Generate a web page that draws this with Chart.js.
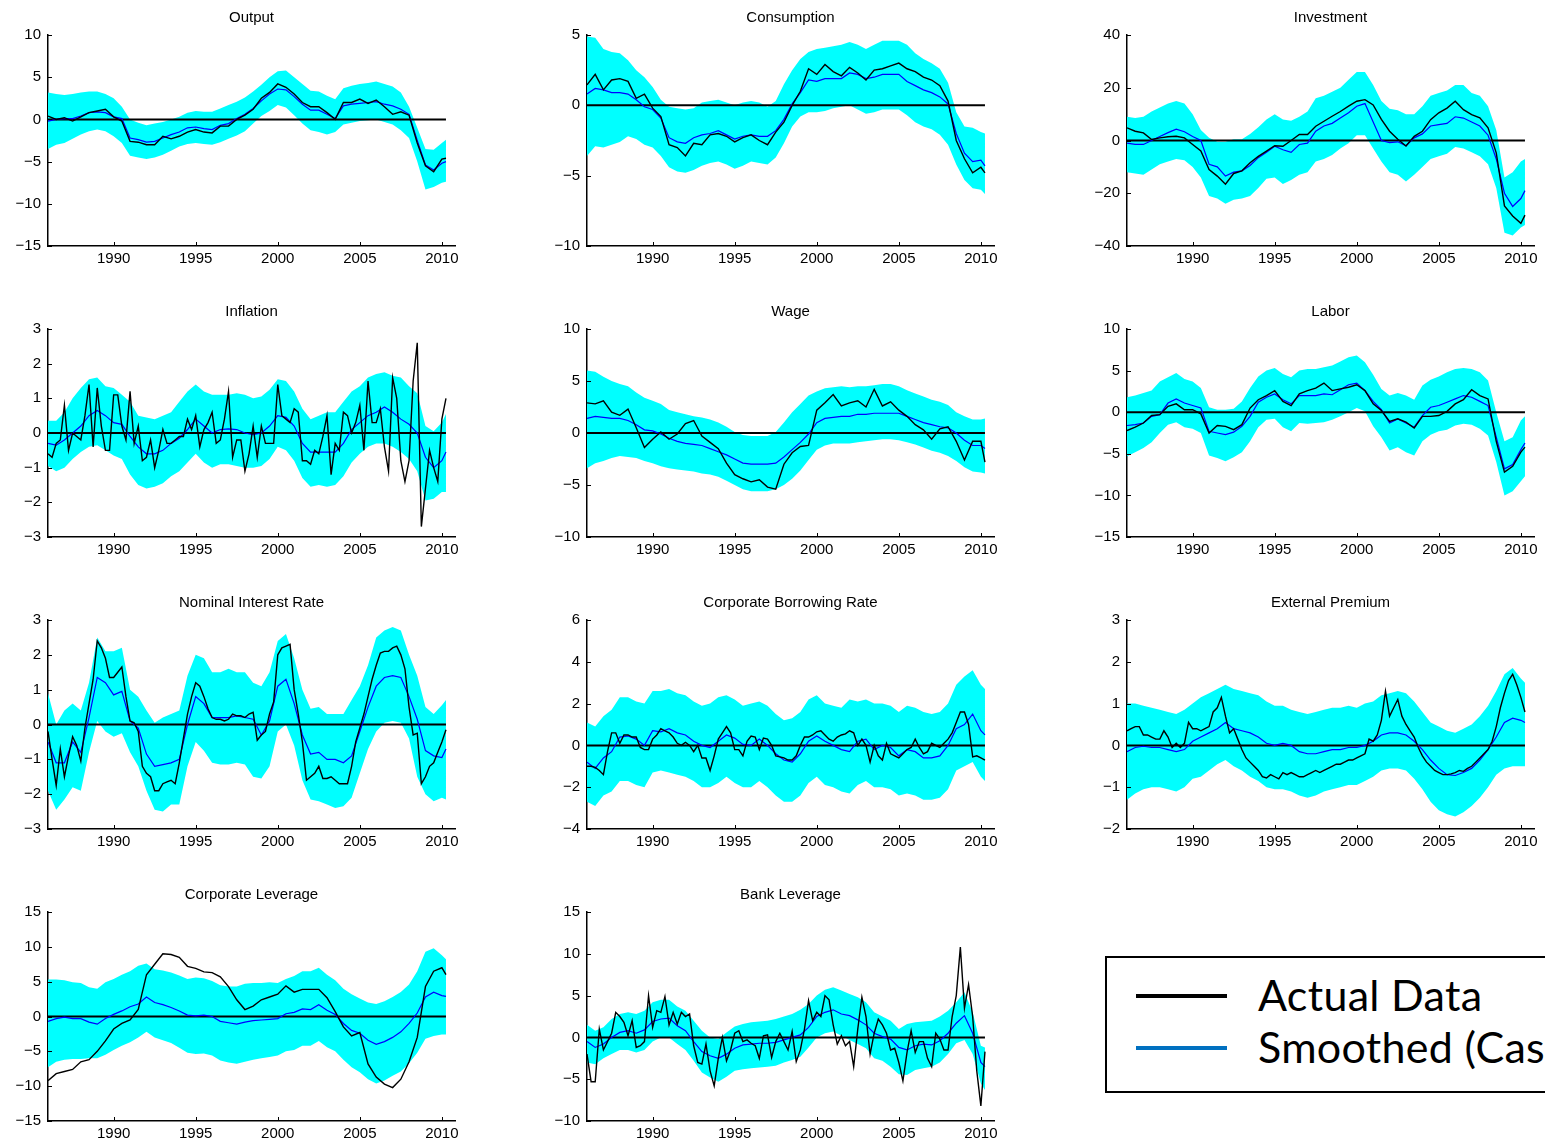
<!DOCTYPE html>
<html><head><meta charset="utf-8">
<script src="https://cdn.jsdelivr.net/npm/chart.js@4.4.0/dist/chart.umd.min.js"></script>
<style>
html,body{margin:0;padding:0;background:#fff;overflow:hidden;width:1545px;height:1145px;position:relative;}
canvas{position:absolute;}
#lgBox{position:absolute;left:1105px;top:956px;width:600px;height:137px;border:2px solid #000;box-sizing:border-box;}
.lgLine{position:absolute;left:1136px;width:91px;height:4px;}
.lgText{position:absolute;left:1258px;font-family:Lato,"Open Sans",sans-serif;font-size:43px;line-height:0;white-space:nowrap;color:#000;letter-spacing:0.3px;}
</style></head><body>
<div id="lgBox"></div>
<div class="lgLine" style="top:994px;background:#000"></div>
<div class="lgLine" style="top:1046px;background:#0070C0"></div>
<div class="lgText" style="top:995px">Actual Data</div>
<div class="lgText" style="top:1047px">Smoothed (Case 1)</div>
<script>
// ---------- categories / ticks ----------
const titles = ['Output','Consumption','Investment','Inflation','Wage','Labor','Nominal Interest Rate','Corporate Borrowing Rate','External Premium','Corporate Leverage','Bank Leverage'];
const xTickYears = [1990, 1995, 2000, 2005, 2010];
const firstYear = 1986, lastYear = 2010.25;

// ---------- Output ----------
const outputActual = [0.4,0.0,0.2,-0.2,0.3,0.8,1.0,1.2,0.3,-0.2, -2.6,-2.7,-3.0,-3.0,-2.0,-2.3,-2.0,-1.5,-1.2,-1.5, -1.6,-0.8,-0.8,0.0,0.5,1.2,2.5,3.2,4.2,3.8, 3.0,2.0,1.5,1.5,0.8,0.0,2.0,2.0,2.4,1.9, 2.3,1.5,0.6,0.9,0.5,-2.8,-5.5,-6.2,-4.7,-4.6];
const outputSmoothed = [-0.2,0.0,0.1,0.1,0.4,0.8,0.9,0.8,0.3,0.1, -2.2,-2.4,-2.7,-2.6,-2.2,-1.8,-1.5,-1.0,-0.9,-1.1, -1.2,-0.7,-0.5,0.1,0.6,1.3,2.2,3.0,3.6,3.5, 2.7,1.8,1.1,1.1,0.6,0.1,1.6,1.8,1.9,2.0, 2.1,1.8,1.6,1.2,0.6,-2.5,-5.4,-6.0,-5.2,-5.0];
const outputUpper = [3.2,3.0,2.9,3.0,3.2,3.3,3.3,3.0,2.5,1.5, 0.0,-0.4,-0.7,-0.5,-0.3,0.0,0.3,0.8,1.0,0.9, 0.9,1.3,1.7,2.1,2.6,3.3,4.1,5.0,5.7,5.8, 5.0,4.2,3.4,3.3,2.8,2.4,3.7,4.0,4.2,4.3, 4.5,4.2,3.9,3.2,1.5,-1.0,-3.5,-3.6,-2.8,-2.4];
const outputLower = [-3.5,-3.0,-2.8,-2.3,-1.8,-1.4,-1.2,-1.4,-2.0,-2.8, -4.3,-4.5,-4.7,-4.5,-4.2,-3.7,-3.2,-2.9,-2.8,-2.9, -3.0,-2.7,-2.3,-1.9,-1.4,-0.5,0.4,1.0,1.7,1.4, 0.5,-0.5,-1.3,-1.5,-1.8,-1.5,-0.6,-0.4,-0.2,-0.1, 0.0,-0.3,-0.6,-1.3,-2.2,-5.0,-8.3,-8.0,-7.5,-7.4];

// ---------- Consumption ----------
const consActual = [1.45,2.2,1.1,1.8,1.9,1.7,0.5,0.8,-0.2,-0.8, -2.8,-3.0,-3.6,-2.7,-2.8,-2.1,-2.0,-2.2,-2.6,-2.3, -2.1,-2.5,-2.8,-1.9,-1.2,0.0,1.0,2.6,2.2,2.9, 2.4,2.1,2.7,2.3,1.8,2.5,2.6,2.8,3.0,2.6, 2.4,2.0,1.8,1.4,0.3,-2.5,-3.8,-4.8,-4.4,-4.8];
const consSmoothed = [0.8,1.2,1.1,0.9,0.9,0.8,0.4,-0.1,-0.3,-0.9, -2.3,-2.6,-2.7,-2.3,-2.1,-2.0,-1.8,-2.1,-2.4,-2.2, -2.1,-2.2,-2.2,-1.8,-1.0,0.1,0.9,1.8,1.7,1.9, 1.9,1.9,2.3,2.2,1.9,2.0,2.2,2.2,2.2,1.7, 1.4,1.1,0.9,0.6,0.1,-2.0,-3.4,-4.0,-3.9,-4.3];
const consUpper = [4.9,4.8,4.0,3.8,3.7,3.2,2.5,2.0,1.3,0.4, -0.1,-0.2,-0.3,-0.2,0.2,0.3,0.4,0.2,0.0,0.2, 0.3,0.2,-0.1,0.3,1.5,2.5,3.3,3.8,4.0,4.1, 4.2,4.3,4.5,4.3,4.0,4.3,4.6,4.6,4.6,4.3, 3.7,3.3,3.0,2.6,1.6,-0.5,-1.5,-1.6,-1.9,-2.0];
const consLower = [-3.6,-2.9,-3.0,-2.8,-2.6,-2.2,-2.4,-2.8,-3.0,-3.6, -4.4,-4.7,-4.8,-4.6,-4.3,-4.1,-4.0,-4.2,-4.5,-4.3, -4.0,-4.1,-4.2,-3.7,-2.7,-1.5,-0.8,-0.5,-0.5,-0.4, -0.2,-0.1,0.0,-0.3,-0.6,-0.5,-0.3,-0.3,-0.3,-0.7, -1.2,-1.5,-1.7,-2.1,-2.8,-4.2,-5.3,-5.9,-6.0,-6.3];

// ---------- Investment ----------
const invActual = [4.8,3.5,2.9,0.4,1.0,1.4,1.6,1.0,-1.5,-4.0, -11.0,-13.5,-16.6,-12.5,-11.5,-8.4,-6.0,-4.0,-2.0,-2.2, 0.0,2.3,2.3,5.4,7.3,9.2,11.0,13.0,14.9,15.5, 13.5,8.0,3.5,0.5,-2.1,1.6,3.5,7.9,10.5,12.3, 14.9,11.7,9.8,8.6,4.8,-4.7,-24.8,-28.6,-31.4,-28.3];
const invSmoothed = [-1.0,-1.5,-1.5,0.0,1.5,3.0,4.3,3.3,1.5,0.0, -9.0,-10.0,-13.5,-12.0,-11.5,-9.5,-6.5,-4.5,-2.2,-3.5, -4.5,-1.5,-1.0,3.5,5.5,6.5,8.5,10.5,13.0,14.0, 7.0,0.0,-0.8,-0.5,-2.0,1.0,2.5,5.5,6.0,6.5, 9.0,8.5,7.0,5.5,2.0,-7.0,-20.0,-25.0,-22.0,-19.0];
const invUpper = [9.0,8.5,9.0,11.0,12.5,14.0,15.0,14.0,10.0,4.0, 1.0,-0.5,-0.5,0.5,0.5,2.5,5.0,8.0,10.0,8.0, 7.5,9.0,11.0,16.0,17.0,18.5,20.0,23.0,26.0,26.0, 21.0,15.0,12.0,11.5,10.0,10.0,13.0,17.0,18.0,19.0, 21.0,21.0,18.0,17.0,13.0,4.0,-14.0,-12.0,-8.0,-7.0];
const invLower = [-12.0,-12.5,-13.0,-11.0,-9.0,-8.0,-7.0,-7.5,-10.0,-14.0, -21.0,-22.0,-24.0,-22.5,-22.0,-21.0,-18.0,-14.5,-14.0,-16.5, -15.0,-13.0,-12.0,-8.0,-7.0,-5.5,-3.0,-1.0,2.0,2.0, -3.0,-8.0,-12.0,-13.0,-15.5,-13.0,-10.0,-7.0,-6.0,-5.0, -2.5,-3.0,-4.5,-6.0,-9.0,-18.0,-35.0,-36.0,-33.0,-32.0];

// ---------- Inflation (quarterly actual) ----------
const inflActual = [
 -0.6,-0.7,-0.3,-0.2,0.8,-0.5,0.0,-0.1,
 -0.2,0.5,1.4,-0.4,1.3,0.2,-0.5,-0.5,
 1.1,1.1,0.2,-0.2,1.2,-0.3,0.2,-0.8,
 -0.7,-0.2,-1.0,-0.5,0.1,-0.3,-0.3,-0.2,
 -0.1,-0.1,0.4,0.1,0.5,-0.4,0.1,0.3,
 0.6,-0.3,-0.2,0.4,1.2,-0.7,-0.2,-0.2,
 -1.1,-0.6,0.2,-0.7,0.2,-0.3,-0.3,-0.3,
 1.4,0.5,0.4,0.3,0.7,0.6,-0.8,-0.8,
 -0.9,-0.5,-0.6,-0.1,0.5,-1.2,-0.3,-0.5,
 0.6,0.5,0.0,0.3,0.8,-0.5,1.5,0.3,
 0.3,0.7,-0.4,-1.1,1.6,1.0,-0.8,-1.4,
 -0.8,1.5,2.6,-2.7,-1.6,-0.5,-1.0,-1.4,
 0.4,1.0];
const inflSmoothed = [-0.3,-0.35,-0.2,0.0,0.2,0.5,0.65,0.5,0.3,0.25, -0.1,-0.4,-0.6,-0.6,-0.5,-0.3,-0.15,0.1,0.4,0.2, 0.0,0.1,0.12,0.1,0.0,-0.05,0.0,0.2,0.5,0.45, 0.2,-0.3,-0.55,-0.55,-0.55,-0.55,-0.3,0.1,0.3,0.5, 0.6,0.75,0.6,0.4,0.25,0.0,-0.7,-1.0,-0.8,-0.55];
const inflUpper = [0.35,0.35,0.6,1.0,1.3,1.55,1.6,1.35,1.3,1.1, 0.9,0.5,0.45,0.4,0.5,0.6,0.9,1.2,1.4,1.2, 1.1,1.1,1.1,1.15,1.1,1.0,1.05,1.25,1.55,1.5, 1.2,0.7,0.4,0.5,0.6,0.6,0.9,1.2,1.35,1.6, 1.7,1.75,1.65,1.6,1.35,1.15,0.2,0.05,0.3,0.55];
const inflLower = [-0.95,-1.1,-1.0,-0.75,-0.55,-0.4,-0.35,-0.5,-0.65,-0.75, -1.2,-1.5,-1.6,-1.55,-1.45,-1.25,-1.1,-0.85,-0.6,-0.85, -1.0,-0.9,-0.9,-0.95,-1.0,-1.0,-0.95,-0.75,-0.4,-0.5, -0.8,-1.3,-1.55,-1.5,-1.55,-1.5,-1.25,-0.85,-0.6,-0.4, -0.3,-0.3,-0.4,-0.55,-0.75,-1.1,-1.95,-1.9,-1.7,-1.7];

// ---------- Wage ----------
const wageActual = [2.9,2.8,3.1,2.0,1.7,2.3,0.5,-1.4,-0.6,0.1, -0.6,-0.1,0.9,1.2,-0.3,-0.9,-1.5,-2.9,-4.0,-4.4, -4.7,-4.5,-5.2,-5.4,-3.0,-1.9,-1.3,-1.2,2.2,2.9, 3.7,2.6,2.9,3.1,2.5,4.2,2.6,3.0,2.2,1.6, 0.8,0.3,-0.6,0.4,0.6,-0.8,-2.6,-0.8,-0.8,-2.8];
const wageSmoothed = [1.4,1.6,1.5,1.4,1.4,1.2,0.8,0.3,0.2,-0.1, -0.5,-0.8,-1.0,-1.1,-1.2,-1.5,-1.8,-2.1,-2.5,-2.9, -3.0,-3.0,-3.0,-2.9,-2.3,-1.6,-0.9,-0.1,1.0,1.4, 1.5,1.6,1.6,1.8,1.8,1.9,1.9,1.9,1.9,1.6, 1.3,1.0,0.8,0.6,0.5,0.0,-0.7,-1.2,-1.2,-1.5];
const wageUpper = [6.0,5.9,5.4,5.0,4.7,4.5,3.9,3.4,3.1,2.8, 2.2,2.0,1.8,1.6,1.5,1.3,1.0,0.6,0.1,-0.2, -0.3,-0.3,-0.3,0.1,1.0,2.0,2.8,3.6,4.0,4.3, 4.4,4.5,4.4,4.5,4.5,4.6,4.7,4.7,4.5,4.1, 3.8,3.5,3.2,3.0,2.7,2.0,1.6,1.3,1.3,1.4];
const wageLower = [-3.4,-2.9,-2.7,-2.4,-2.2,-2.3,-2.4,-2.7,-2.9,-3.2, -3.4,-3.5,-3.6,-3.7,-3.9,-4.0,-4.2,-4.6,-5.0,-5.4, -5.6,-5.6,-5.6,-5.4,-5.0,-4.4,-3.6,-2.6,-1.6,-1.2, -1.0,-1.0,-1.0,-0.9,-0.8,-0.7,-0.6,-0.6,-0.7,-0.9, -1.1,-1.4,-1.7,-1.9,-2.2,-2.7,-3.3,-3.7,-3.8,-3.9];

// ---------- Labor ----------
const laborActual = [-2.2,-1.8,-1.3,-0.4,-0.3,0.7,1.0,0.3,0.3,-0.2, -2.5,-1.6,-1.7,-2.1,-1.5,0.5,1.5,2.0,2.6,1.3, 0.8,2.2,2.6,2.9,3.5,2.6,2.8,3.0,3.3,2.6, 1.0,0.2,-1.1,-0.8,-1.2,-1.9,-0.5,-0.5,-0.4,0.1, 1.0,1.5,2.7,2.0,1.6,-3.5,-7.2,-6.5,-4.8,-4.2];
const laborSmoothed = [-1.6,-1.5,-1.3,-0.5,-0.3,1.1,1.6,1.1,0.8,0.5, -2.3,-2.5,-2.7,-2.4,-1.7,-0.5,1.2,1.8,2.2,1.5, 1.0,2.0,2.0,2.0,2.2,2.1,2.7,3.3,3.5,2.6, 1.3,0.3,-1.3,-0.8,-1.3,-1.8,-0.4,0.6,0.8,1.2, 1.6,2.0,1.8,1.3,0.8,-3.0,-6.8,-6.3,-4.5,-3.7];
const laborUpper = [1.8,2.0,2.3,2.6,3.7,4.2,4.7,4.0,3.7,2.9, 0.6,0.3,0.3,0.4,1.3,2.9,4.3,5.0,5.3,4.6, 4.2,5.0,5.2,5.2,5.4,5.6,6.1,6.6,6.8,6.0, 4.5,2.8,2.0,2.3,2.0,1.5,3.2,3.9,4.3,4.8, 5.2,5.3,5.2,4.8,3.8,0.0,-3.5,-3.0,-1.0,-0.5];
const laborLower = [-5.3,-4.8,-4.3,-3.6,-2.5,-1.5,-1.2,-1.8,-2.0,-2.5, -5.2,-5.5,-5.9,-5.4,-4.8,-3.5,-1.8,-0.9,-0.8,-1.8, -2.3,-1.3,-1.4,-1.3,-1.2,-0.9,-0.5,0.0,0.5,0.1, -1.7,-3.0,-4.6,-4.2,-4.8,-5.2,-3.5,-2.7,-2.3,-2.1, -1.6,-1.4,-1.5,-2.0,-2.8,-6.0,-10.0,-9.5,-8.3,-7.7];

// ---------- Nominal Interest Rate (quarterly actual) ----------
const nomActual = [
 -0.2,-1.0,-1.75,-0.7,-1.5,-0.9,-0.35,-0.6,
 -1.05,-0.1,0.6,1.3,2.4,2.2,1.9,1.35,
 1.35,1.5,1.65,0.8,0.1,0.05,-0.2,-1.2,
 -1.4,-1.5,-1.9,-1.9,-1.7,-1.65,-1.6,-1.7,
 -1.1,-0.4,0.3,0.8,1.2,1.1,0.8,0.45,
 0.2,0.15,0.15,0.1,0.15,0.3,0.25,0.25,
 0.2,0.3,0.35,-0.45,-0.3,-0.2,0.3,0.65,
 2.0,2.2,2.25,2.3,1.0,0.3,-0.5,-1.6,
 -1.5,-1.4,-1.2,-1.55,-1.55,-1.5,-1.6,-1.7,
 -1.7,-1.7,-1.2,-0.5,-0.1,0.3,0.8,1.3,
 1.7,2.05,2.1,2.1,2.2,2.25,2.0,1.6,
 0.5,-0.3,-0.25,-1.7,-1.5,-1.2,-1.1,-0.8,
 -0.5,-0.15];
const nomSmoothed = [-0.5,-1.1,-1.1,-0.5,-0.8,0.2,1.35,1.2,0.85,0.95, 0.1,-0.1,-0.85,-1.2,-1.15,-1.1,-1.0,0.0,0.8,0.6, 0.2,0.2,0.2,0.25,0.2,0.15,-0.3,0.1,1.1,1.3, 0.6,-0.3,-0.85,-0.8,-1.0,-1.0,-1.1,-0.9,-0.2,0.5, 1.1,1.35,1.4,1.35,0.8,0.15,-0.75,-0.9,-0.95,-0.7];
const nomUpper = [0.9,0.0,0.4,0.6,0.4,1.2,2.5,2.1,2.1,2.2, 1.0,0.8,0.4,0.05,0.2,0.3,0.4,1.4,2.0,1.9, 1.5,1.5,1.6,1.5,1.5,1.2,1.1,1.5,2.4,2.6, 1.9,1.0,0.45,0.5,0.3,0.3,0.3,0.7,1.1,1.7, 2.5,2.7,2.8,2.7,2.0,1.4,0.5,0.3,0.55,0.7];
const nomLower = [-1.9,-2.45,-2.15,-1.8,-1.9,-0.8,0.1,-0.2,-0.35,-0.25, -0.8,-1.2,-1.9,-2.45,-2.5,-2.3,-2.3,-1.2,-0.5,-0.75, -1.1,-1.15,-1.15,-1.1,-1.15,-1.5,-1.55,-1.2,-0.2,0.0, -0.6,-1.6,-2.15,-2.2,-2.3,-2.4,-2.35,-2.1,-1.4,-0.7, -0.2,0.05,0.1,0.05,-0.4,-1.5,-2.0,-2.2,-2.1,-2.15];

// ---------- Corporate Borrowing Rate (quarterly actual) ----------
const cbrActual = [
 -1.0,-1.0,-1.05,-1.2,-1.4,-0.3,0.6,0.6,
 0.1,0.5,0.5,0.4,0.4,-0.1,-0.2,-0.2,
 0.3,0.5,0.8,0.7,0.6,0.4,0.1,0.0,
 0.15,0.0,-0.3,0.0,-0.6,-0.6,-1.2,-0.5,
 0.3,0.6,0.9,0.6,-0.2,-0.2,-0.5,0.2,
 0.45,0.4,-0.2,0.35,0.3,0.0,-0.5,-0.55,
 -0.6,-0.7,-0.7,-0.5,0.0,0.4,0.4,0.5,
 0.65,0.7,0.5,0.3,0.2,0.4,0.5,0.55,
 0.7,0.6,0.0,0.3,0.0,-0.8,0.0,-0.5,
 -0.7,0.1,-0.4,-0.5,-0.6,-0.4,-0.2,-0.1,
 0.3,-0.1,-0.4,-0.3,0.1,0.0,-0.1,0.1,
 0.3,0.6,1.1,1.6,1.6,1.0,-0.55,-0.5,
 -0.6,-0.7];
const cbrSmoothed = [-0.8,-1.1,-0.6,-0.3,0.4,0.45,0.3,0.0,0.7,0.65, 0.8,0.6,0.5,0.2,0.0,-0.1,0.2,0.5,0.35,0.05, 0.0,0.3,0.0,-0.4,-0.7,-0.8,-0.4,0.2,0.45,0.2, 0.0,-0.2,-0.3,0.2,0.3,-0.2,0.0,-0.1,-0.5,-0.2, -0.3,-0.6,-0.6,-0.5,0.0,0.8,1.0,1.5,0.7,0.5];
const cbrUpper = [1.1,0.9,1.4,1.7,2.3,2.3,2.1,2.0,2.6,2.6, 2.7,2.5,2.4,2.1,1.9,2.0,2.3,2.4,2.2,1.9, 2.0,2.1,1.9,1.5,1.2,1.3,1.6,2.2,2.4,2.0, 1.9,1.8,2.2,2.1,2.2,2.0,2.0,1.9,1.6,1.9, 1.8,1.6,1.5,1.6,2.0,2.9,3.3,3.6,2.9,2.7];
const cbrLower = [-2.7,-2.9,-2.4,-2.2,-1.7,-1.7,-1.9,-2.0,-1.3,-1.2, -1.3,-1.4,-1.5,-1.7,-2.0,-2.0,-1.8,-1.5,-1.8,-2.0, -2.0,-1.7,-2.0,-2.4,-2.7,-2.7,-2.4,-1.8,-1.5,-1.9, -2.0,-2.2,-2.3,-1.9,-1.7,-2.0,-2.0,-2.1,-2.4,-2.3, -2.4,-2.6,-2.6,-2.5,-2.1,-1.2,-1.0,-0.8,-1.5,-1.7];

// ---------- External Premium (quarterly actual) ----------
const extActual = [
 0.35,0.4,0.45,0.45,0.25,0.25,0.2,0.15,
 0.15,0.35,0.2,-0.05,0.05,-0.05,0.05,0.55,
 0.4,0.4,0.35,0.4,0.45,0.8,0.9,1.15,
 0.7,0.3,0.4,0.15,-0.1,-0.3,-0.4,-0.5,
 -0.6,-0.75,-0.78,-0.7,-0.75,-0.8,-0.65,-0.7,
 -0.65,-0.7,-0.75,-0.75,-0.7,-0.65,-0.6,-0.65,
 -0.6,-0.55,-0.5,-0.45,-0.45,-0.4,-0.35,-0.35,
 -0.3,-0.25,-0.2,0.15,0.1,0.25,0.6,1.3,
 0.7,0.9,1.1,0.7,0.5,0.35,0.2,-0.05,
 -0.25,-0.4,-0.5,-0.6,-0.65,-0.7,-0.7,-0.68,
 -0.65,-0.6,-0.62,-0.55,-0.5,-0.4,-0.3,-0.2,
 -0.1,0.1,0.45,0.9,1.25,1.55,1.7,1.45,
 1.15,0.8];
const extSmoothed = [-0.15,-0.05,-0.02,-0.05,-0.05,-0.1,-0.15,-0.1,0.1,0.2, 0.3,0.4,0.55,0.4,0.35,0.3,0.2,0.05,0.0,0.05, 0.0,-0.15,-0.2,-0.2,-0.15,-0.1,-0.1,-0.05,-0.05,0.0, 0.1,0.25,0.3,0.3,0.25,0.1,-0.1,-0.35,-0.55,-0.7, -0.72,-0.65,-0.55,-0.35,-0.1,0.2,0.55,0.65,0.6,0.55];
const extUpper = [1.0,1.0,0.95,0.9,0.85,0.8,0.75,0.85,1.0,1.15, 1.25,1.35,1.45,1.35,1.3,1.25,1.2,1.05,0.95,0.95, 0.85,0.8,0.75,0.8,0.85,0.9,0.9,0.95,0.9,1.0, 1.05,1.2,1.25,1.3,1.25,1.05,0.8,0.55,0.45,0.35, 0.3,0.4,0.5,0.7,0.95,1.3,1.7,1.85,1.6,1.5];
const extLower = [-1.3,-1.15,-1.05,-1.0,-1.0,-1.05,-1.1,-1.0,-0.8,-0.75, -0.6,-0.45,-0.35,-0.5,-0.6,-0.75,-0.85,-1.0,-1.05,-1.05, -1.1,-1.2,-1.25,-1.2,-1.1,-1.05,-1.0,-0.95,-0.95,-0.85, -0.75,-0.6,-0.55,-0.55,-0.6,-0.8,-1.05,-1.35,-1.55,-1.65, -1.7,-1.6,-1.45,-1.25,-1.0,-0.7,-0.55,-0.5,-0.5,-0.5];

// ---------- Corporate Leverage ----------
const clevActual = [-9.2,-8.2,-7.9,-7.6,-6.5,-6.2,-5.0,-3.5,-1.8,-1.0, -0.5,1.0,6.0,7.5,9.0,8.9,8.5,7.2,6.9,6.4, 6.3,5.7,4.3,2.4,1.0,1.5,2.4,2.8,3.2,4.4, 3.5,3.9,3.9,3.9,2.7,0.7,-1.5,-2.8,-2.3,-6.8, -8.7,-9.7,-10.2,-9.0,-6.5,-3.0,4.3,6.5,7.0,6.0];
const clevSmoothed = [-0.7,-0.3,-0.1,-0.3,-0.3,-0.8,-1.1,-0.3,0.3,0.8, 1.4,1.8,2.8,2.0,1.7,1.3,0.8,0.2,0.1,0.2, 0.0,-0.7,-0.9,-1.1,-0.8,-0.6,-0.5,-0.4,-0.3,0.4, 0.6,1.1,1.0,1.7,0.9,0.3,-1.0,-2.0,-2.4,-3.4, -4.0,-3.6,-3.0,-2.2,-1.0,0.5,2.8,3.5,3.0,2.9];
const clevUpper = [5.3,5.3,5.2,4.9,4.8,4.2,4.0,4.9,5.4,6.0, 6.5,7.3,7.6,6.8,6.6,6.3,5.9,5.4,5.6,5.5, 5.1,4.5,4.3,4.3,4.7,4.8,4.8,4.9,4.8,5.4, 5.8,6.5,6.5,7.0,6.0,5.2,4.0,3.2,2.6,2.0, 1.8,2.2,2.8,3.5,4.6,6.5,9.3,9.8,8.8,8.2];
const clevLower = [-7.3,-6.5,-6.2,-6.1,-6.1,-6.0,-6.0,-5.5,-4.8,-4.2, -3.7,-3.0,-2.2,-3.0,-3.4,-3.8,-4.5,-5.2,-5.4,-5.3, -5.6,-6.3,-6.6,-6.8,-6.5,-6.2,-6.0,-5.8,-5.6,-5.0, -4.8,-4.2,-4.2,-3.5,-4.4,-5.0,-6.2,-7.3,-8.0,-9.0, -9.6,-9.2,-8.5,-7.9,-6.7,-5.2,-3.2,-2.8,-2.6,-2.6];

// ---------- Bank Leverage (quarterly actual) ----------
const blevActual = [
 -2.0,-5.3,-5.3,1.0,-1.5,-0.5,0.5,3.0,
 2.5,1.8,0.2,2.0,-1.2,-1.0,-0.5,5.0,
 1.2,3.2,3.0,4.9,1.5,3.0,1.6,3.0,
 2.5,2.8,-1.0,-3.0,-3.2,-0.8,-4.0,-5.8,
 -2.5,0.0,-2.8,-1.5,0.5,0.8,-0.5,-0.3,
 -0.7,-1.0,-2.5,0.2,0.3,-2.4,-0.5,0.5,
 -0.5,-1.5,0.7,-2.9,-1.5,1.0,4.4,2.0,
 3.0,2.5,5.0,4.5,1.5,-0.8,0.2,-1.0,
 -0.5,-3.5,1.0,4.8,2.5,-2.0,0.5,2.2,
 1.5,0.5,-1.5,-1.3,-3.0,-5.2,-1.8,0.8,
 -1.8,-0.5,-0.5,-2.5,-3.5,0.5,-0.2,-1.5,
 -1.5,2.5,5.0,10.8,3.5,6.3,2.5,-4.0,
 -8.2,-1.7];
const blevSmoothed = [-0.5,-1.2,-0.8,0.0,0.6,0.8,0.5,0.9,1.9,2.2, 2.3,1.4,0.8,-0.5,-1.7,-2.2,-2.5,-2.0,-1.3,-0.9, -0.8,-0.7,-0.7,-0.6,-0.3,0.0,0.3,1.2,2.5,3.0, 3.3,2.8,2.6,2.1,1.5,0.5,0.1,-0.2,-1.2,-1.5, -1.0,-0.8,-0.9,-0.4,0.5,1.7,2.6,0.5,-3.0,-3.5];
const blevUpper = [1.5,0.8,1.2,2.2,2.8,3.0,2.8,3.2,4.2,4.5, 4.5,3.7,3.2,2.0,0.8,0.0,-0.2,0.6,1.3,1.6, 1.8,1.9,2.0,2.2,2.5,2.8,3.3,4.0,5.0,5.7, 6.0,5.6,5.2,4.8,4.2,3.0,2.5,2.0,1.0,1.6, 1.8,1.9,2.0,2.5,3.2,4.2,5.4,3.0,-1.0,-1.2];
const blevLower = [-3.0,-3.2,-2.5,-2.0,-1.5,-1.5,-1.8,-1.5,-0.5,0.0, 0.0,-0.8,-1.5,-2.8,-4.2,-4.8,-5.3,-4.7,-4.0,-3.8, -3.7,-3.6,-3.5,-3.4,-3.0,-2.7,-2.3,-1.2,0.0,0.5, 0.7,0.2,-0.3,-0.8,-1.3,-2.5,-2.8,-3.5,-4.4,-4.5, -3.9,-3.7,-3.5,-3.0,-2.0,-0.7,-0.3,-2.0,-5.5,-6.3];

// ---------- y-axis ranges (tick values) ----------
const yMins  = [-15,-10,-40,-3,-10,-15,-3,-4,-2,-15,-10];
const yMaxs  = [10,5,40,3,10,10,3,6,3,15,15];
const ySteps = [5,5,20,1,5,5,1,2,1,5,5];

const seriesSets = [
  [outputActual, outputSmoothed, outputUpper, outputLower],
  [consActual, consSmoothed, consUpper, consLower],
  [invActual, invSmoothed, invUpper, invLower],
  [inflActual, inflSmoothed, inflUpper, inflLower],
  [wageActual, wageSmoothed, wageUpper, wageLower],
  [laborActual, laborSmoothed, laborUpper, laborLower],
  [nomActual, nomSmoothed, nomUpper, nomLower],
  [cbrActual, cbrSmoothed, cbrUpper, cbrLower],
  [extActual, extSmoothed, extUpper, extLower],
  [clevActual, clevSmoothed, clevUpper, clevLower],
  [blevActual, blevSmoothed, blevUpper, blevLower]
];

// ---------- layout ----------
const FONT = '"Liberation Sans", Arial, sans-serif';
const colX = [48, 587, 1127];
const rowY = [35, 329, 620, 912];
const rowH = [211, 208, 209, 209];
const PLOT_W = 407, Y_W = 48, X_H = 30, TOP_PAD = 35, RIGHT_PAD = 14;

function toPoints(arr){
  const step = arr.length > 60 ? 0.25 : 0.5;
  return arr.map((v,i)=>({x: Math.min(firstYear + i*step, lastYear), y: v}));
}
function fmt(v){ return v < 0 ? '\u2212' + Math.abs(v) : String(v); }

const decor = {
  id: 'decor',
  afterDraw(chart, args, opts){
    const {ctx, chartArea: a, scales: {x, y}} = chart;
    ctx.save();
    ctx.strokeStyle = '#000'; ctx.lineWidth = 1;
    x.ticks.forEach(t => {
      const px = Math.round(x.getPixelForValue(t.value)) + 0.5;
      ctx.beginPath(); ctx.moveTo(px, a.bottom); ctx.lineTo(px, a.bottom - 4); ctx.stroke();
    });
    y.ticks.forEach(t => {
      const py = Math.round(y.getPixelForValue(t.value)) + 0.5;
      ctx.beginPath(); ctx.moveTo(a.left, py); ctx.lineTo(a.left + 4, py); ctx.stroke();
    });
    ctx.fillStyle = '#000';
    ctx.font = '15px ' + FONT;
    ctx.textAlign = 'center'; ctx.textBaseline = 'middle';
    ctx.fillText(opts.title, (a.left + a.right) / 2, a.top - 17);
    ctx.restore();
  }
};

titles.forEach((title, k) => {
  const col = k % 3, row = Math.floor(k / 3);
  const [act, sm, up, lo] = seriesSets[k];
  const w = Y_W + PLOT_W + RIGHT_PAD, h = TOP_PAD + rowH[row] + X_H;
  const cv = document.createElement('canvas');
  cv.width = w; cv.height = h;
  cv.style.left = (colX[col] - Y_W) + 'px';
  cv.style.top = (rowY[row] - TOP_PAD) + 'px';
  cv.style.width = w + 'px'; cv.style.height = h + 'px';
  document.body.appendChild(cv);
  new Chart(cv, {
    type: 'line',
    data: { datasets: [
      { label: 'Actual Data', data: toPoints(act), borderColor: '#000', borderWidth: 1.4, pointRadius: 0, fill: false, order: 0, tension: 0 },
      { label: 'Smoothed', data: toPoints(sm), borderColor: '#0000ff', borderWidth: 1.2, pointRadius: 0, fill: false, order: 1, tension: 0 },
      { label: 'zero', data: [{x: firstYear, y: 0}, {x: lastYear, y: 0}], borderColor: '#000', borderWidth: 2, pointRadius: 0, fill: false, order: 2 },
      { label: 'upper', data: toPoints(up), borderWidth: 0, borderColor: 'rgba(0,0,0,0)', backgroundColor: '#00ffff', pointRadius: 0, fill: '+1', order: 3 },
      { label: 'lower', data: toPoints(lo), borderWidth: 0, borderColor: 'rgba(0,0,0,0)', backgroundColor: '#00ffff', pointRadius: 0, fill: false, order: 4 }
    ]},
    options: {
      responsive: false, animation: false, devicePixelRatio: 1,
      layout: { padding: { top: TOP_PAD, right: RIGHT_PAD, left: 0, bottom: 0 } },
      plugins: { legend: { display: false }, tooltip: { enabled: false }, decor: { title } },
      scales: {
        x: {
          type: 'linear', min: 1986, max: 2010.8,
          afterBuildTicks: s => { s.ticks = xTickYears.map(v => ({ value: v })); },
          afterFit: s => { s.height = X_H; },
          grid: { display: false, drawTicks: false },
          border: { display: true, color: '#000', width: 1.5 },
          ticks: { color: '#000', font: { family: FONT, size: 15 }, padding: 4, maxRotation: 0, autoSkip: false, callback: v => String(v) }
        },
        y: {
          type: 'linear', min: yMins[k], max: yMaxs[k],
          afterFit: s => { s.width = Y_W; },
          grid: { display: false, drawTicks: false },
          border: { display: true, color: '#000', width: 1.5 },
          ticks: { color: '#000', font: { family: FONT, size: 15 }, padding: 7, stepSize: ySteps[k], autoSkip: false, callback: v => fmt(v) }
        }
      }
    },
    plugins: [decor]
  });
});
</script>
</body></html>
